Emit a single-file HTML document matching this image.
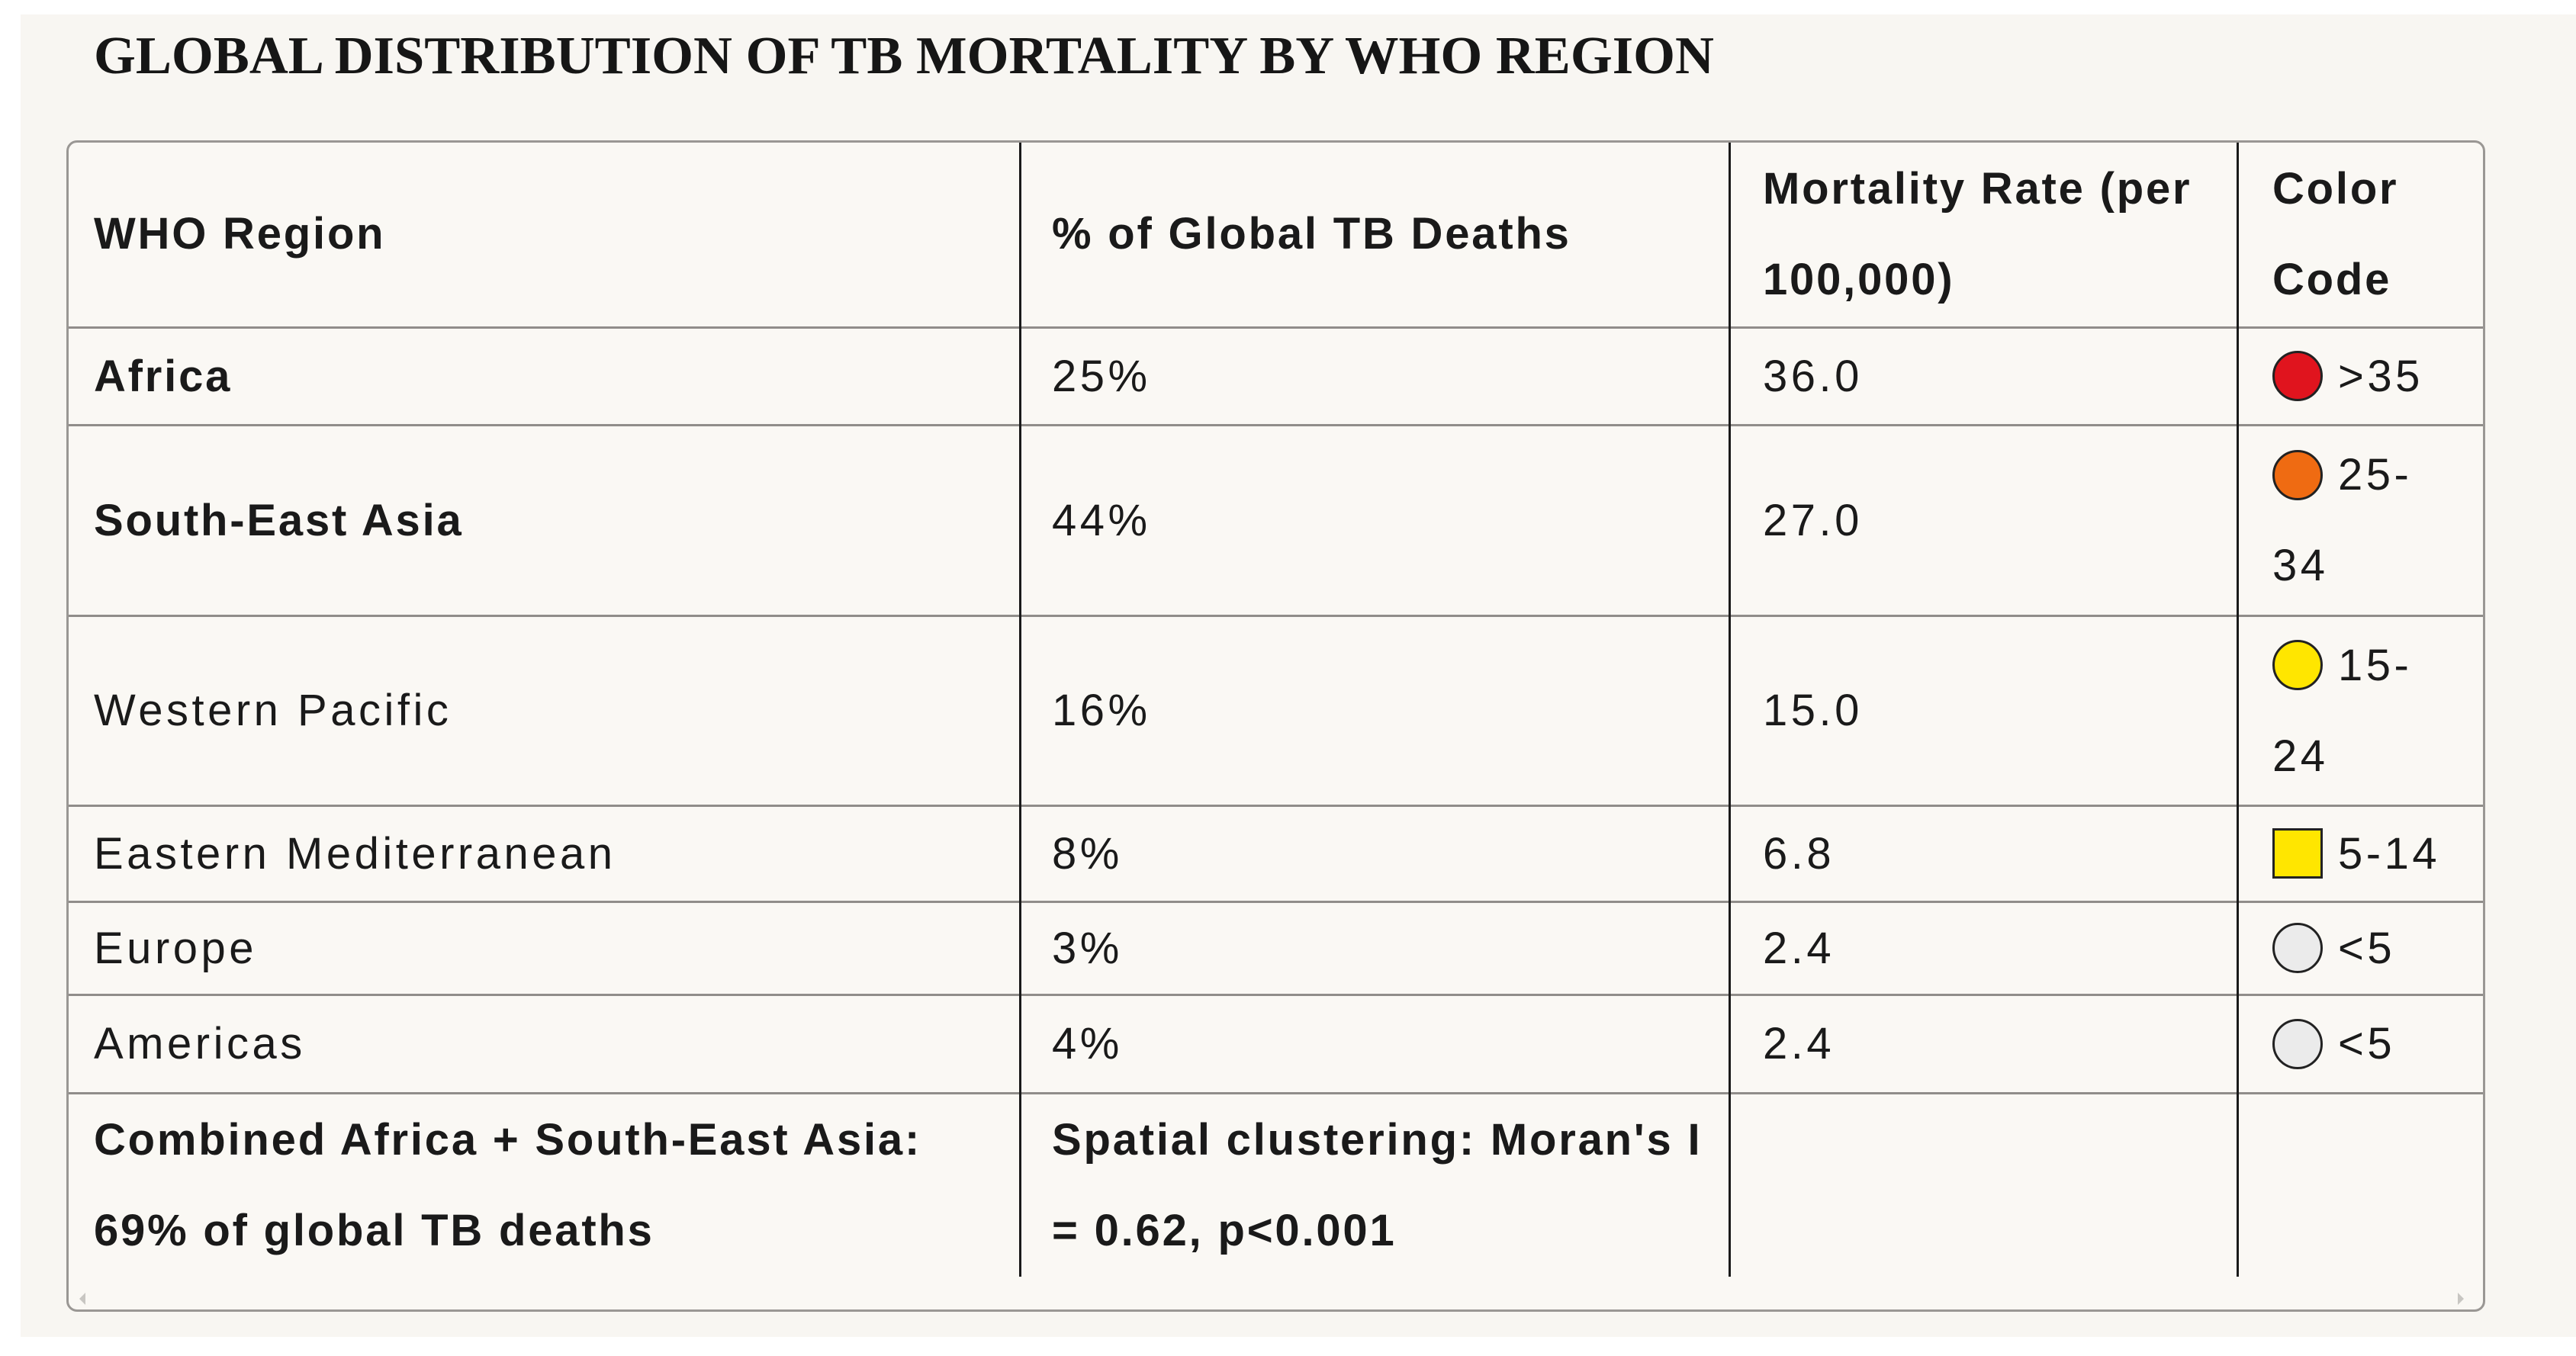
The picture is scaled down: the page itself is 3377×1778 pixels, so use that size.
<!DOCTYPE html>
<html><head><meta charset="utf-8">
<style>
html,body{margin:0;padding:0;background:#fff;}
#page{position:relative;width:3377px;height:1778px;overflow:hidden;background:#fff;font-family:"Liberation Sans",sans-serif;color:#1a1a1a;}
#panel{position:absolute;left:27px;top:19px;width:3350px;height:1734px;background:#f8f6f2;}
#tbl{position:absolute;left:87px;top:184px;width:3171px;height:1536px;border:3px solid #9a9794;border-radius:14px;box-sizing:border-box;background:#faf8f4;}
.hl{position:absolute;height:3px;background:#908d8a;}
.vl{position:absolute;width:3px;background:#1a1a1a;}
.cell{position:absolute;font-size:58px;line-height:119px;display:flex;align-items:center;letter-spacing:4.5px;white-space:nowrap;}
.b{font-weight:bold;letter-spacing:2.8px;}
.sw{display:inline-block;width:66px;height:66px;border:3px solid #222;border-radius:50%;box-sizing:border-box;margin-right:20px;vertical-align:middle;position:relative;top:-4px;}
</style></head>
<body>
<div id="page">
<div id="panel"></div>
<svg style="position:absolute;left:0;top:0" width="3377" height="140">
<text x="123" y="96" textLength="2124" lengthAdjust="spacingAndGlyphs" font-family="Liberation Serif, serif" font-weight="bold" font-size="70" fill="#161616">GLOBAL DISTRIBUTION OF TB MORTALITY BY WHO REGION</text>
</svg>
<div id="tbl"></div>
<div id="layer" style="position:absolute;left:0;top:0;width:3377px;height:1778px;"></div>
<svg style="position:absolute;left:0;top:0" width="3377" height="1778">
<polygon points="112,1695 104,1703 112,1711" fill="#c8c6c2"/>
<polygon points="3222,1695 3230,1703 3222,1711" fill="#c8c6c2"/>
</svg>
</div>
<script>
const regions=["Africa","South-East Asia","Western Pacific","Eastern Mediterranean","Europe","Americas"];
const pctDeaths=["25%","44%","16%","8%","3%","4%"];
const mortality=["36.0","27.0","15.0","6.8","2.4","2.4"];
const codeLabels=[">35","25-<br>34","15-<br>24","5-14","<5","<5"];
const codeColors=["#e0141e","#ef6b12","#ffe600","#ffe600","#ebebeb","#ebebeb"];
const codeShapes=["circle","circle","circle","square","circle","circle"];
const boldRows=[true,true,false,false,false,false];

const colX=[87,1337,2267,2933,3258];
const rowY=[184,429,557,807,1056,1182,1304,1433,1674];
const layer=document.getElementById('layer');
function add(html,cls,l,t,w,h,name){
  const d=document.createElement('div');
  d.className=cls;d.style.left=l+'px';d.style.top=t+'px';
  d.style.width=w+'px';d.style.height=h+'px';
  if(html!==null)d.innerHTML=html;
  
  
  layer.appendChild(d);return d;
}
for(let i=1;i<rowY.length-1;i++){add(null,'hl',colX[0]+3,rowY[i]-1,colX[4]-colX[0]-6,3,'row-divider');}
for(let j=1;j<4;j++){add(null,'vl',colX[j]-1,rowY[0]+3,3,rowY[8]-rowY[0]-3,'column-divider');}
const pads=[36,42,44,46];
function cell(html,r,c,bold,name){
  const x=colX[c]+pads[c];const w=colX[c+1]-x-10;
  add(html,'cell'+(bold?' b':''),x,rowY[r],w,rowY[r+1]-rowY[r],name);
}
cell('WHO Region',0,0,true,'header-region');
cell('% of Global TB Deaths',0,1,true,'header-pct');
cell('Mortality Rate (per<br>100,000)',0,2,true,'header-mortality');
cell('Color<br>Code',0,3,true,'header-color-code');
regions.forEach((r,i)=>{
  cell(r,i+1,0,boldRows[i],'region-name');
  cell(pctDeaths[i],i+1,1,false,'pct-deaths');
  cell(mortality[i],i+1,2,false,'mortality-rate');
  const rad=codeShapes[i]==='square'?'0':'50%';
  const parts=codeLabels[i].split('<br>').map(s=>s.replace('<','&lt;').replace('>','&gt;'));
  const sw='<span class="sw" style="background:'+codeColors[i]+';border-radius:'+rad+'"></span>';
  cell('<div>'+sw+parts.join('<br>')+'</div>',i+1,3,false,'color-code');
});
cell('Combined Africa + South-East Asia:<br>69% of global TB deaths',7,0,true,'footer-combined');
cell('Spatial clustering: Moran\'s I<br>= 0.62, p&lt;0.001',7,1,true,'footer-clustering');
</script>
</body></html>
